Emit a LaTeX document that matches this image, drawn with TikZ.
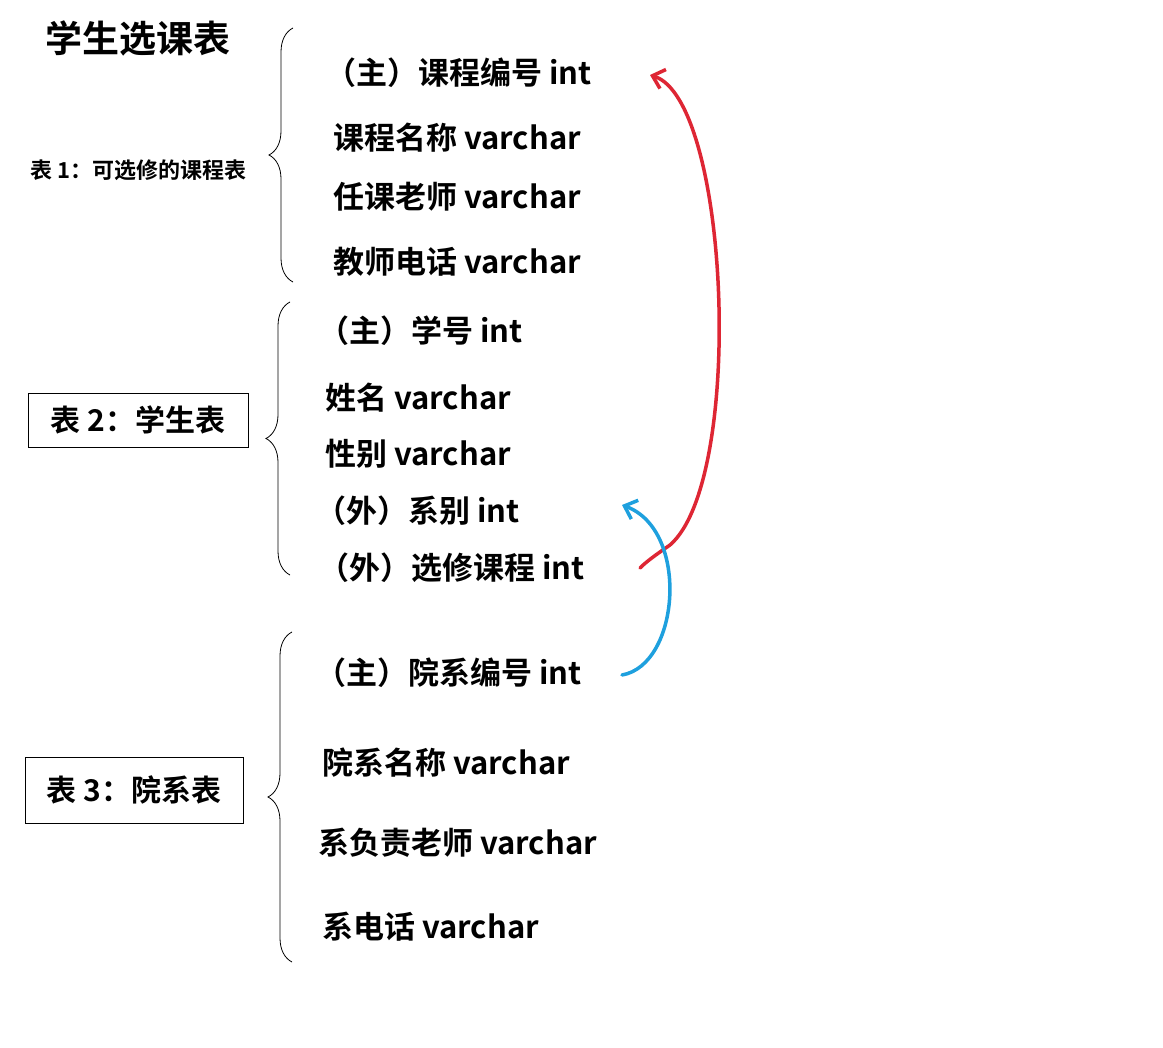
\documentclass[tikz,border=0pt]{standalone}
\usepackage{fontspec}
\setmainfont{Noto Sans CJK SC}[BoldFont={Noto Sans CJK SC Bold}]
\usetikzlibrary{decorations.pathreplacing,arrows.meta}
\definecolor{myred}{RGB}{222,38,52}
\definecolor{myblue}{RGB}{30,160,222}
\begin{document}
\begin{tikzpicture}[x=1pt,y=-1pt,
  fld/.style={anchor=west,inner sep=0pt,font=\fontsize{31}{33}\selectfont\bfseries},
  tb/.style={draw,line width=0.8pt,inner sep=0pt,font=\fontsize{30}{32}\selectfont\bfseries},
  br/.style={decorate,decoration={brace,amplitude=24pt,aspect=0.5},line width=0.8pt},
  conn/.style={line width=3.5pt,line cap=round,-{Straight Barb[length=11pt,width=20pt,line width=3.5pt]},{Straight Barb[length=11pt,width=20pt,line width=3.5pt]}-}]
\useasboundingbox[fill=white] (0,0) rectangle (1163,1048);
\node[anchor=west,inner sep=0pt,font=\fontsize{37}{39}\selectfont\bfseries] (title) at (45,38) {学生选课表};
\node[anchor=west,inner sep=0pt,font=\fontsize{22}{24}\selectfont\bfseries] (t1) at (30,170) {表 1：可选修的课程表};
\node[tb,minimum width=220pt,minimum height=54pt] (t2) at (138,420) {表 2：学生表};
\node[tb,minimum width=218pt,minimum height=66pt] (t3) at (134,790) {表 3：院系表};
\draw[br] (293,282) -- (293,28);
\draw[br] (290,575) -- (290,302);
\draw[br] (292,962) -- (292,632);
\node[fld] (a1) at (325,73) {（主）课程编号 int};
\node[fld] (a2) at (333,138) {课程名称 varchar};
\node[fld] (a3) at (333,197) {任课老师 varchar};
\node[fld] (a4) at (333,262) {教师电话 varchar};
\node[fld] (b1) at (318,331) {（主）学号 int};
\node[fld] (b2) at (325,398) {姓名 varchar};
\node[fld] (b3) at (325,454) {性别 varchar};
\node[fld] (b4) at (315,511) {（外）系别 int};
\node[fld] (b5) at (318,568) {（外）选修课程 int};
\node[fld] (c1) at (315,673) {（主）院系编号 int};
\node[fld] (c2) at (322,763) {院系名称 varchar};
\node[fld] (c3) at (318,843) {系负责老师 varchar};
\node[fld] (c4) at (322,927) {系电话 varchar};
\coordinate (r1) at (650,75);
\coordinate (r2) at (640,568);
\coordinate (u1) at (622,505);
\coordinate (u2) at (622,675);
\draw[conn,myred] (r1) .. controls (730,100) and (745,480) .. (670,545) .. controls (660,552) and (648,560) .. (r2);
\draw[conn,myblue] (u1) .. controls (690,530) and (680,665) .. (u2);
\end{tikzpicture}
\end{document}
